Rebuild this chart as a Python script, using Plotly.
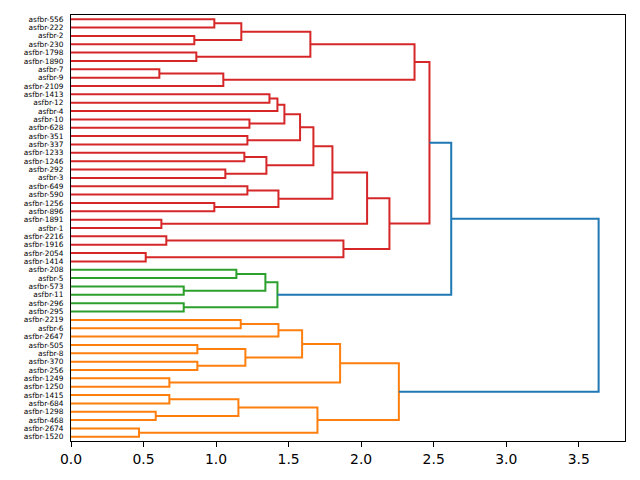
import plotly.graph_objects as go

# Leaf labels, top to bottom
leaf_labels = [
    "asfbr-556", "asfbr-222", "asfbr-2", "asfbr-230", "asfbr-1798", "asfbr-1890",
    "asfbr-7", "asfbr-9", "asfbr-2109", "asfbr-1413", "asfbr-12", "asfbr-4",
    "asfbr-10", "asfbr-628", "asfbr-351", "asfbr-337", "asfbr-1233", "asfbr-1246",
    "asfbr-292", "asfbr-3", "asfbr-649", "asfbr-590", "asfbr-1256", "asfbr-896",
    "asfbr-1891", "asfbr-1", "asfbr-2216", "asfbr-1916", "asfbr-2054", "asfbr-1414",
    "asfbr-208", "asfbr-5", "asfbr-573", "asfbr-11", "asfbr-296", "asfbr-295",
    "asfbr-2219", "asfbr-6", "asfbr-2647", "asfbr-505", "asfbr-8", "asfbr-370",
    "asfbr-256", "asfbr-1249", "asfbr-1250", "asfbr-1415", "asfbr-684", "asfbr-1298",
    "asfbr-468", "asfbr-2674", "asfbr-1520",
]

# Merges: new cluster name, left child, right child, merge height, colour group
merge_name = ["A1", "A2", "A3", "A4", "A5", "A6", "A7", "A8",
              "B1", "B2", "B3", "B4", "B5", "B6", "B7", "B8", "B9", "B10",
              "B11", "B12", "B13", "B14", "B15", "B16", "B17", "B18", "B19", "B20",
              "R",
              "G1", "G2", "G3", "G4", "G5",
              "RG",
              "O1", "O2", "O3", "O4", "O5", "O6", "O7", "O8", "O9", "O10",
              "O11", "O12", "O13", "O14",
              "TOP"]
merge_a = ["asfbr-556", "asfbr-2", "A1", "asfbr-1798", "A3", "asfbr-7", "A6", "A5",
           "asfbr-1413", "B1", "asfbr-10", "B2", "asfbr-351", "B4", "asfbr-1233", "asfbr-292", "B7", "B6",
           "asfbr-649", "asfbr-1256", "B11", "B10", "asfbr-1891", "B14", "asfbr-2216", "asfbr-2054", "B17", "B16",
           "A8",
           "asfbr-208", "asfbr-573", "G1", "asfbr-296", "G3",
           "R",
           "asfbr-2219", "O1", "asfbr-505", "asfbr-370", "O3", "O2", "asfbr-1249", "O6", "asfbr-1415", "asfbr-1298",
           "O9", "asfbr-2674", "O11", "O8",
           "RG"]
merge_b = ["asfbr-222", "asfbr-230", "A2", "asfbr-1890", "A4", "asfbr-9", "asfbr-2109", "A7",
           "asfbr-12", "asfbr-4", "asfbr-628", "B3", "asfbr-337", "B5", "asfbr-1246", "asfbr-3", "B8", "B9",
           "asfbr-590", "asfbr-896", "B12", "B13", "asfbr-1", "B15", "asfbr-1916", "asfbr-1414", "B18", "B19",
           "B20",
           "asfbr-5", "asfbr-11", "G2", "asfbr-295", "G4",
           "G5",
           "asfbr-6", "asfbr-2647", "asfbr-8", "asfbr-256", "O4", "O5", "asfbr-1250", "O7", "asfbr-684", "asfbr-468",
           "O10", "asfbr-1520", "O12", "O13",
           "O14"]
merge_h = [0.988, 0.850, 1.174, 0.864, 1.650, 0.609, 1.050, 2.368,
           1.368, 1.423, 1.230, 1.471, 1.216, 1.579, 1.195, 1.064, 1.347, 1.671,
           1.216, 0.988, 1.430, 1.802, 0.623, 2.041, 0.657, 0.515, 1.878, 2.195,
           2.471,
           1.140, 0.777, 1.340, 0.777, 1.423,
           2.621,
           1.170, 1.430, 0.871, 0.871, 1.202, 1.593, 0.678, 1.855, 0.678, 0.584,
           1.154, 0.469, 1.699, 2.260,
           3.637]
merge_grp = ["r"] * 29 + ["g"] * 5 + ["b"] + ["o"] * 14 + ["b"]

group_colors = {"r": "#d62728", "g": "#2ca02c", "o": "#ff7f0e", "b": "#1f77b4"}
x_ticks = [0.0, 0.5, 1.0, 1.5, 2.0, 2.5, 3.0, 3.5]

n = len(leaf_labels)
leaf_y = [10 * (n - 1 - i) + 5 for i in range(n)]
pos = {lab: (0.0, y) for lab, y in zip(leaf_labels, leaf_y)}

segs = {g: ([], []) for g in group_colors}
for name, a, b, h, g in zip(merge_name, merge_a, merge_b, merge_h, merge_grp):
    ha, ya = pos[a]
    hb, yb = pos[b]
    xs, ys = segs[g]
    xs += [ha, h, h, hb, None]
    ys += [ya, ya, yb, yb, None]
    pos[name] = (h, (ya + yb) / 2)

fig = go.Figure()
for g in ["r", "g", "o", "b"]:
    xs, ys = segs[g]
    fig.add_trace(go.Scatter(x=xs, y=ys, mode="lines",
                             line=dict(color=group_colors[g], width=2),
                             hoverinfo="skip", showlegend=False))

fig.update_layout(
    width=640, height=480,
    margin=dict(l=71, r=15, t=15, b=39),
    paper_bgcolor="white", plot_bgcolor="white",
    font=dict(family="DejaVu Sans", color="black"),
    xaxis=dict(range=[0, 1.05 * max(merge_h)], tickvals=x_ticks,
               ticktext=[f"{v:.1f}" for v in x_ticks],
               ticks="outside", ticklen=5, tickwidth=1, tickcolor="black",
               showline=True, mirror=True, linecolor="black", linewidth=1,
               showgrid=False, zeroline=False,
               tickfont=dict(size=13.9, family="DejaVu Sans", color="black")),
    yaxis=dict(range=[0, 10 * n], tickvals=leaf_y, ticktext=leaf_labels,
               ticks="outside", ticklen=5, tickcolor="rgba(0,0,0,0)",
               showline=True, mirror=True, linecolor="black", linewidth=1,
               showgrid=False, zeroline=False,
               tickfont=dict(size=7.4, family="DejaVu Sans", color="black")),
)

fig.write_html("out.html")
